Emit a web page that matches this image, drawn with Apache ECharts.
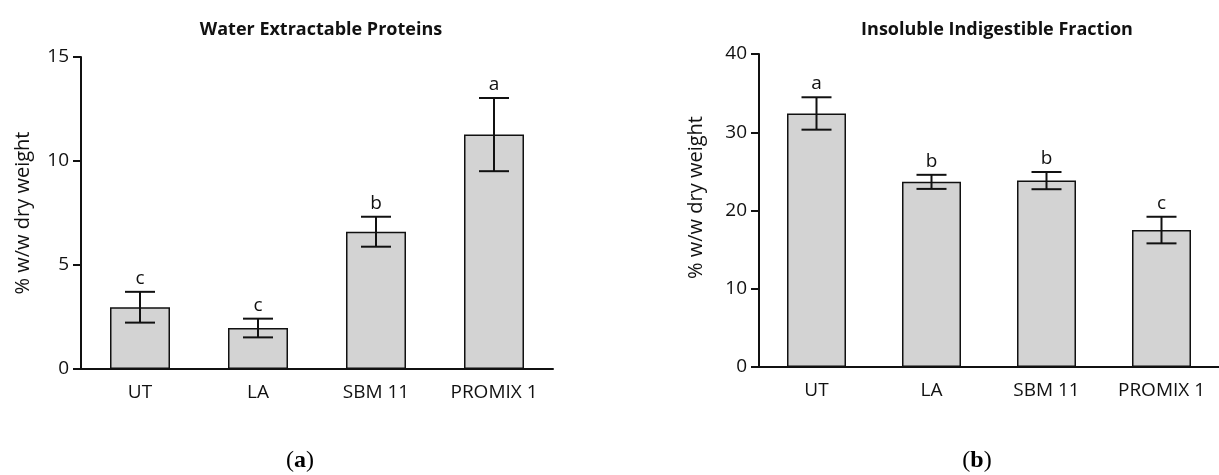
<!DOCTYPE html>
<html>
<head>
<meta charset="utf-8">
<script src="https://cdn.jsdelivr.net/npm/echarts@6/dist/echarts.min.js"></script>
<style>html,body{margin:0;padding:0;background:#fff}#c{width:1219px;height:475px}</style>
</head>
<body>
<div id="c"></div>
<script>
const categories = ['UT', 'LA', 'SBM 11', 'PROMIX 1'];
const wepMean = [2.97, 1.97, 6.6, 11.27];
const wepErr = [0.74, 0.45, 0.72, 1.76];
const wepLetters = ['c', 'c', 'b', 'a'];
const iifMean = [32.4, 23.66, 23.82, 17.5];
const iifErr = [2.07, 0.9, 1.1, 1.7];
const iifLetters = ['a', 'b', 'b', 'c'];
const wepTicks = [0, 5, 10, 15];
const iifTicks = [0, 10, 20, 30, 40];

const FONT = 'Open Sans';
const chart = echarts.init(document.getElementById('c'), null, {renderer: 'canvas'});

function errRender(means, errs, letters) {
  return function (params, api) {
    const i = api.value(0);
    const m = means[i], e = errs[i];
    const top = api.coord([i, m + e]);
    const bot = api.coord([i, m - e]);
    const hw = 15;
    const st = {stroke: '#111', lineWidth: 2};
    return {
      type: 'group',
      children: [
        {type: 'line', shape: {x1: top[0], y1: top[1], x2: bot[0], y2: bot[1]}, style: st},
        {type: 'line', shape: {x1: top[0] - hw, y1: top[1], x2: top[0] + hw, y2: top[1]}, style: st},
        {type: 'line', shape: {x1: bot[0] - hw, y1: bot[1], x2: bot[0] + hw, y2: bot[1]}, style: st},
        {type: 'text', x: top[0], y: top[1] - 4, style: {text: letters[i], fill: '#111', font: '19px "' + FONT + '"', textAlign: 'center', textVerticalAlign: 'bottom'}}
      ]
    };
  };
}

function xAx(gi) {
  return {
    type: 'category', gridIndex: gi, data: categories,
    axisLine: {lineStyle: {color: '#111', width: 2}},
    axisTick: {alignWithLabel: true, length: 8, lineStyle: {color: '#111', width: 2}},
    axisLabel: {color: '#111', fontFamily: FONT, fontSize: 19, margin: 14}
  };
}
function yAx(gi, ticks, gap, pad) {
  return {
    type: 'value', gridIndex: gi, min: ticks[0], max: ticks[ticks.length - 1], interval: ticks[1] - ticks[0],
    name: '% w/w dry weight', nameLocation: 'middle', nameGap: gap,
    nameTextStyle: {color: '#111', fontFamily: FONT, fontSize: 20, padding: pad},
    axisLine: {show: true, lineStyle: {color: '#111', width: 2}},
    axisTick: {show: true, length: 8, lineStyle: {color: '#111', width: 2}},
    axisLabel: {color: '#111', fontFamily: FONT, fontSize: 19, margin: 12},
    splitLine: {show: false}
  };
}

const rich = {
  p: {fontFamily: 'Liberation Serif', fontSize: 24, color: '#111'},
  b: {fontFamily: 'Liberation Serif', fontWeight: 'bold', fontSize: 24, color: '#111'}
};

chart.setOption({
  animation: false,
  backgroundColor: '#fff',
  title: [
    {text: 'Water Extractable Proteins', left: 316, top: 16, textAlign: 'center', textStyle: {fontFamily: FONT, fontWeight: 'bold', fontSize: 18, color: '#111'}},
    {text: 'Insoluble Indigestible Fraction', left: 992, top: 16, textAlign: 'center', textStyle: {fontFamily: FONT, fontWeight: 'bold', fontSize: 18, color: '#111'}}
  ],
  grid: [
    {left: 81, top: 57, width: 472, height: 312},
    {left: 759, top: 54, width: 469, height: 313}
  ],
  xAxis: [xAx(0), xAx(1)],
  yAxis: [yAx(0, wepTicks, 48, 0), yAx(1, iifTicks, 53, [0, 0, 0, 26])],
  series: [
    {type: 'bar', xAxisIndex: 0, yAxisIndex: 0, data: wepMean, barWidth: 60,
     itemStyle: {color: '#d3d3d3', borderColor: '#111', borderWidth: 1.5}},
    {type: 'custom', xAxisIndex: 0, yAxisIndex: 0, data: wepMean.map((v, i) => [i, v]),
     renderItem: errRender(wepMean, wepErr, wepLetters), z: 5},
    {type: 'bar', xAxisIndex: 1, yAxisIndex: 1, data: iifMean, barWidth: 59,
     itemStyle: {color: '#d3d3d3', borderColor: '#111', borderWidth: 1.5}},
    {type: 'custom', xAxisIndex: 1, yAxisIndex: 1, data: iifMean.map((v, i) => [i, v]),
     renderItem: errRender(iifMean, iifErr, iifLetters), z: 5}
  ],
  graphic: [
    {type: 'text', x: 300, y: 461, style: {text: '{p|(}{b|a}{p|)}', rich: rich, textAlign: 'center', textVerticalAlign: 'middle'}},
    {type: 'text', x: 977, y: 461, style: {text: '{p|(}{b|b}{p|)}', rich: rich, textAlign: 'center', textVerticalAlign: 'middle'}}
  ]
});
</script>
</body>
</html>
